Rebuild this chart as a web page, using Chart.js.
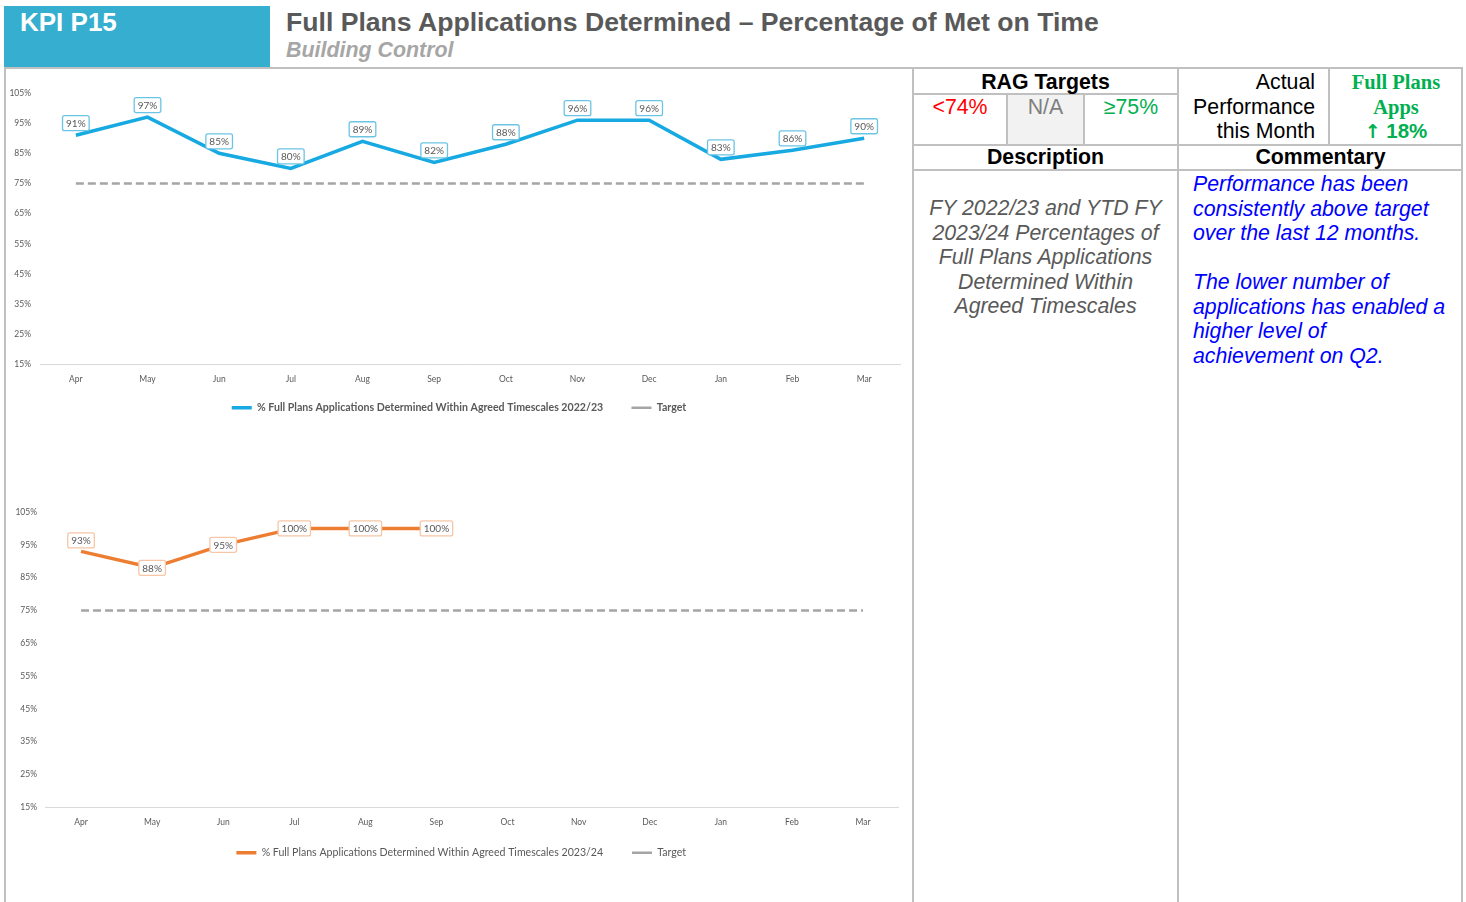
<!DOCTYPE html>
<html><head><meta charset="utf-8">
<script src="https://cdn.jsdelivr.net/npm/chart.js@4.4.0/dist/chart.umd.min.js"></script>
<style>
html,body{margin:0;padding:0;}
body{width:1466px;height:902px;background:#fff;position:relative;overflow:hidden;font-family:"Liberation Sans",Arial,sans-serif;}
.a{position:absolute;}
.ln{position:absolute;background:#c0c0c0;}
.t20{font-size:21.3px;line-height:24px;}
</style>
</head><body>
<!-- header -->
<div class="a" style="left:4px;top:6px;width:266px;height:61px;background:#35aed0;"></div>
<div class="a" style="left:20px;top:8px;font-weight:bold;font-size:26px;line-height:28px;color:#fff;">KPI P15</div>
<div class="a" style="left:286px;top:7px;font-weight:bold;font-size:26.6px;line-height:30px;color:#595959;white-space:nowrap;">Full Plans Applications Determined – Percentage of Met on Time</div>
<div class="a" style="left:286px;top:37px;font-weight:bold;font-style:italic;font-size:21.4px;line-height:26px;color:#a6a6a6;">Building Control</div>
<div class="ln" style="left:4px;top:67px;width:1459px;height:2px;"></div>
<div class="ln" style="left:4px;top:68px;width:2px;height:834px;"></div>

<!-- charts -->
<canvas id="c1" width="910" height="360" class="a" style="left:0;top:70px;"></canvas>
<canvas id="c2" width="910" height="390" class="a" style="left:0;top:490px;"></canvas>

<!-- table lines -->
<div class="ln" style="left:912px;top:68px;width:2px;height:834px;"></div>
<div class="ln" style="left:1177px;top:68px;width:2px;height:834px;"></div>
<div class="ln" style="left:1461px;top:68px;width:2px;height:834px;"></div>
<div class="a" style="left:1007px;top:95px;width:77px;height:49px;background:#f2f2f2;"></div>
<div class="ln" style="left:1006px;top:94px;width:2px;height:51px;"></div>
<div class="ln" style="left:1083px;top:94px;width:2px;height:51px;"></div>
<div class="ln" style="left:1328px;top:68px;width:2px;height:77px;"></div>
<div class="ln" style="left:913px;top:93px;width:265px;height:2px;"></div>
<div class="ln" style="left:913px;top:144px;width:549px;height:2px;"></div>
<div class="ln" style="left:913px;top:169px;width:549px;height:2px;"></div>

<!-- table text -->
<div class="a t20" style="left:913px;top:70px;width:265px;text-align:center;font-weight:bold;color:#000;">RAG Targets</div>
<div class="a t20" style="left:913px;top:95px;width:94px;text-align:center;color:#ff0000;">&lt;74%</div>
<div class="a t20" style="left:1007px;top:95px;width:77px;text-align:center;color:#7f7f7f;">N/A</div>
<div class="a t20" style="left:1084px;top:95px;width:94px;text-align:center;color:#00b050;">≥75%</div>
<div class="a" style="left:1180px;top:70px;width:135px;text-align:right;font-size:21.3px;line-height:24.5px;color:#000;">Actual<br>Performance<br>this Month</div>
<div class="a" style="left:1330px;top:70px;width:132px;text-align:center;font-size:20.5px;line-height:24.5px;color:#00b050;font-weight:bold;"><span style="font-family:'Liberation Serif',serif;">Full Plans<br>Apps</span><br><span style="font-family:'DejaVu Sans';font-size:19px;">↑</span> 18%</div>
<div class="a t20" style="left:913px;top:145px;width:265px;text-align:center;font-weight:bold;color:#000;">Description</div>
<div class="a t20" style="left:1179px;top:145px;width:283px;text-align:center;font-weight:bold;color:#000;">Commentary</div>
<div class="a" style="left:913px;top:196px;width:265px;text-align:center;font-size:21.3px;line-height:24.5px;font-style:italic;color:#595959;white-space:nowrap;">FY 2022/23 and YTD FY<br>2023/24 Percentages of<br>Full Plans Applications<br>Determined Within<br>Agreed Timescales</div>
<div class="a" style="left:1193px;top:172px;width:268px;text-align:left;font-size:21.3px;line-height:24.5px;font-style:italic;color:#0000ff;white-space:nowrap;">Performance has been<br>consistently above target<br>over the last 12 months.<br><br>The lower number of<br>applications has enabled a<br>higher level of<br>achievement on Q2.</div>

<script>
// ---- data ----
const months = ['Apr','May','Jun','Jul','Aug','Sep','Oct','Nov','Dec','Jan','Feb','Mar'];
const fy2223 = [91,97,85,80,89,82,88,96,96,83,86,90];
const fy2324 = [93,88,95,100,100,100,null,null,null,null,null,null];
const targetValue = 75;
const target = months.map(() => targetValue);
const yMin = 15, yMax = 105, yStep = 10;
const label2223 = '% Full Plans Applications Determined Within Agreed Timescales 2022/23';
const label2324 = '% Full Plans Applications Determined Within Agreed Timescales 2023/24';

const FONT = 'Lato, "Open Sans", sans-serif';

const boxLabels = {
  id: 'boxLabels',
  afterLayout(chart, args, opts) {
    if (chart.legend && opts.legendShift) {
      chart.legend.left += opts.legendShift;
      chart.legend.right += opts.legendShift;
    }
  },
  afterDatasetsDraw(chart, args, opts) {
    const ctx = chart.ctx;
    const meta = chart.getDatasetMeta(0);
    const ds = chart.data.datasets[0];
    ctx.save();
    ctx.font = '10px ' + FONT;
    ctx.textAlign = 'center';
    ctx.textBaseline = 'middle';
    meta.data.forEach((pt, i) => {
      const v = ds.data[i];
      if (v == null) return;
      const txt = v + '%';
      const w = ctx.measureText(txt).width + 7;
      const h = 15;
      const off = (opts.offsets && opts.offsets[i] != null) ? opts.offsets[i] : opts.offset;
      const x = pt.x, y = pt.y + off;
      ctx.fillStyle = '#ffffff';
      ctx.strokeStyle = opts.border;
      ctx.lineWidth = 1.3;
      ctx.beginPath();
      ctx.roundRect(x - w / 2, y - h / 2, w, h, 2);
      ctx.fill();
      ctx.stroke();
      ctx.fillStyle = '#595959';
      ctx.fillText(txt, x, y + 0.5);
    });
    ctx.restore();
  }
};

function legendItems(chart) {
  const items = Chart.defaults.plugins.legend.labels.generateLabels(chart);
  items.forEach((it, i) => {
    if (it.lineDash && it.lineDash.length) it.lineDash = [7, 3];
    if (i === 0) it.text = it.text + '    ';
  });
  return items;
}

function makeChart(id, data, label, color, boxBorder, cfg) {
  return new Chart(document.getElementById(id), {
    type: 'line',
    data: {
      labels: months,
      datasets: [
        { label: label, data: data, borderColor: color, backgroundColor: color, borderWidth: 3.5, pointRadius: 0, tension: 0, spanGaps: false },
        { label: 'Target', data: target, borderColor: '#a5a5a5', backgroundColor: '#a5a5a5', borderWidth: 2.5, borderDash: [8, 4], pointRadius: 0 }
      ]
    },
    options: {
      responsive: false,
      animation: false,
      layout: { padding: { left: 0, right: cfg.right, top: cfg.top, bottom: cfg.bottom } },
      scales: {
        x: {
          offset: true,
          grid: { display: false, drawTicks: false },
          border: { display: true, color: '#d9d9d9', width: 1 },
          ticks: { color: '#595959', font: { family: FONT, size: 8.5 }, padding: cfg.xpad, maxRotation: 0, autoSkip: false },
          afterFit(s) { s.height = cfg.xh; }
        },
        y: {
          min: yMin, max: yMax,
          grid: { display: false, drawTicks: false },
          border: { display: false },
          ticks: { stepSize: yStep, color: '#595959', font: { family: FONT, size: 8.5 }, padding: cfg.ypad, callback: v => v + '%' },
          afterFit(s) { s.width = cfg.yw; }
        }
      },
      plugins: {
        legend: {
          position: 'bottom',
          labels: {
            usePointStyle: true, pointStyle: 'line', pointStyleWidth: 20, boxHeight: 10,
            padding: 18, color: '#595959',
            font: { family: FONT, size: 10.6, weight: cfg.lw },
            generateLabels: legendItems
          }
        },
        tooltip: { enabled: false },
        boxLabels: { border: boxBorder, offset: cfg.off, offsets: cfg.offs, legendShift: cfg.shift }
      }
    },
    plugins: [boxLabels]
  });
}

makeChart('c1', fy2223, label2223, '#17a9e1', '#6cc4e4',
  { right: 10, top: 23, bottom: 7, xpad: 10, xh: 20, yw: 40, ypad: 9, lw: 'bold', off: -12, offs: null, shift: 9 });
makeChart('c2', fy2324, label2324, '#ed7d31', '#f6c6a6',
  { right: 11.5, top: 22, bottom: 12, xpad: 10, xh: 22, yw: 45.5, ypad: 8.5, lw: 'normal', off: 0, offs: [-11], shift: 12 });
</script>
</body></html>
